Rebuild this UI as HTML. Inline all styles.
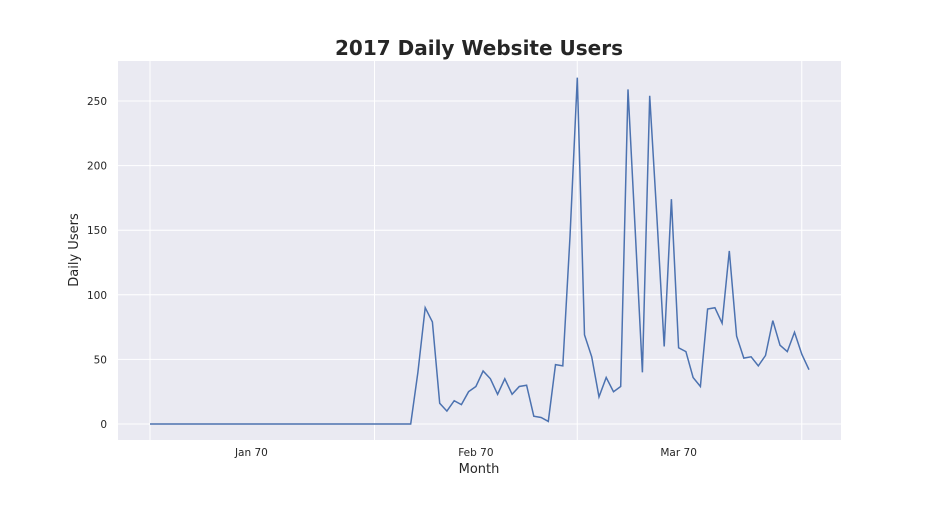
<!DOCTYPE html>
<html><head><meta charset="utf-8"><style>
body{margin:0;background:#fff;}
svg text{font-family:"DejaVu Sans","Liberation Sans",sans-serif;fill:#262626;}
</style></head><body>
<svg id="chart" width="936" height="504">
<text x="479" y="55" text-anchor="middle" font-size="20" font-weight="bold">2017 Daily Website Users</text>
<rect x="118" y="61" width="723" height="379" fill="#eaeaf2"/>
<g id="grid"></g><g id="ticks"></g>
<path id="line" fill="none" stroke="#4c72b0" stroke-width="1.5"/>
<text x="479" y="473" text-anchor="middle" font-size="13">Month</text>
<text transform="translate(78,250) rotate(-90)" text-anchor="middle" font-size="13">Daily Users</text>
</svg>
<script>
const users=[0,0,0,0,0,0,0,0,0,0,0,0,0,0,0,0,0,0,0,0,0,0,0,0,0,0,0,0,0,0,0,0,0,0,0,0,0,40,90,79,16,10,18,15,25,29,41,35,23,35,23,29,30,6,5,2,46,45,145,268,69,52,21,36,25,29,259,150,40,254,160,60,174,59,56,36,29,89,90,78,134,68,51,52,45,53,80,61,56,71,54,42];
const yTicks=[0,50,100,150,200,250];
const monthGridDays=[0,31,59,90];
const monthLabelDays=[14,45,73];
const monthLabels=["Jan 70","Feb 70","Mar 70"];
const NS="http://www.w3.org/2000/svg";
const x=d=>150+d*(659/91);
const y=v=>424-v*(323/250);
const grid=document.getElementById('grid'),ticks=document.getElementById('ticks');
function mk(tag,attrs,parent){const e=document.createElementNS(NS,tag);for(const k in attrs)e.setAttribute(k,attrs[k]);parent.appendChild(e);return e;}
yTicks.forEach(v=>{
 const l=mk('line',{x1:118,x2:841,y1:y(v),y2:y(v),stroke:'#fff','stroke-width':1},grid);
 
 
 const t=mk('text',{x:107,y:y(v)+4,'text-anchor':'end','font-size':10.5},ticks);
 t.textContent=v;
 
 
});
monthGridDays.forEach(d=>{
 const l=mk('line',{x1:x(d),x2:x(d),y1:61,y2:440,stroke:'#fff','stroke-width':1},grid);
 
 
});
monthLabelDays.forEach((d,i)=>{
 const t=mk('text',{x:x(d),y:456,'text-anchor':'middle','font-size':10.5},ticks);
 t.textContent=monthLabels[i];
 
 
});
document.getElementById('line').setAttribute('d',users.map((v,i)=>(i?'L':'M')+x(i).toFixed(1)+','+y(v).toFixed(1)).join(''));
</script>
</body></html>
